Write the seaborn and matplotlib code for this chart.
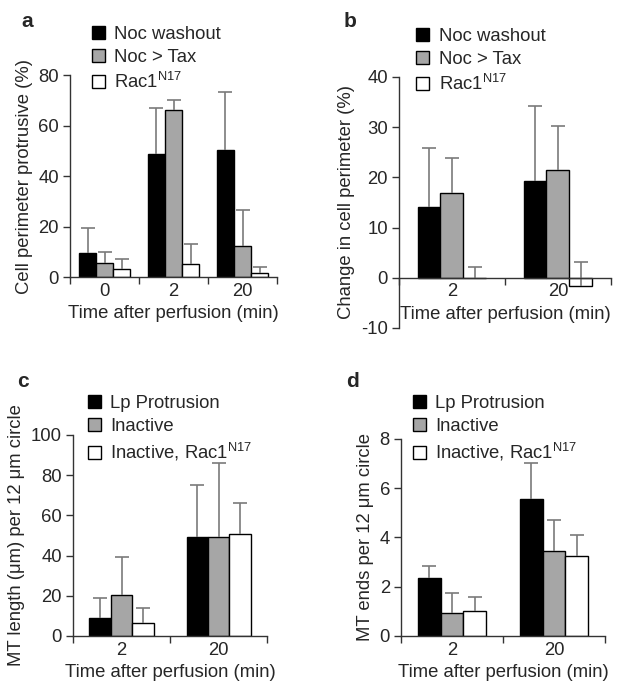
import numpy as np
import pandas as pd
import seaborn as sns
import matplotlib.pyplot as plt
from matplotlib.patches import Patch

# ---------------- Data ----------------
groups_a = ["0", "2", "20"]
groups_2 = ["2", "20"]
series_ab = ["Noc washout", "Noc > Tax", "Rac1$^{\\mathrm{N17}}$"]
series_cd = ["Lp Protrusion", "Inactive", "Inactive, Rac1$^{\\mathrm{N17}}$"]

# panel a: cell perimeter protrusive (%)
a_wash = [9.5, 48.8, 50.4]
a_wash_err = [9.9, 18.1, 23.0]
a_tax = [5.4, 66.2, 12.4]
a_tax_err = [4.6, 3.9, 14.2]
a_rac = [3.0, 5.3, 1.5]
a_rac_err = [4.0, 7.8, 2.3]

# panel b: change in cell perimeter (%)
b_wash = [14.0, 19.3]
b_wash_err = [11.8, 14.9]
b_tax = [16.8, 21.4]
b_tax_err = [7.0, 8.8]
b_rac = [0.0, -1.6]
b_rac_err = [2.1, 4.7]

# panel c: MT length per 12 um circle
c_lp = [9.0, 49.3]
c_lp_err = [9.9, 25.9]
c_in = [20.6, 49.3]
c_in_err = [18.8, 36.7]
c_rac = [6.6, 50.5]
c_rac_err = [7.2, 15.8]

# panel d: MT ends per 12 um circle
d_lp = [2.35, 5.57]
d_lp_err = [0.48, 1.44]
d_in = [0.95, 3.46]
d_in_err = [0.81, 1.23]
d_rac = [1.03, 3.23]
d_rac_err = [0.57, 0.89]

colors = ["black", "#a6a6a6", "white"]

# ---------------- Style ----------------
sns.set_style("ticks")
plt.rcParams["font.family"] = ["Liberation Sans", "DejaVu Sans"]
plt.rcParams["mathtext.fontset"] = "custom"
plt.rcParams["mathtext.rm"] = "Liberation Sans"
plt.rcParams["axes.unicode_minus"] = False
FS = 13.3
axcol = "#333333"

fig = plt.figure(figsize=(6.32, 6.81), dpi=100)


def make_df(groups, names, vals, errs):
    rows = []
    for name, v, e in zip(names, vals, errs):
        for g, vi, ei in zip(groups, v, e):
            rows.append({"time": g, "series": name, "value": vi, "err": ei})
    return pd.DataFrame(rows)


def panel(rect, groups, names, vals, errs, ylim, yticks, ylabel, width,
          letter, letter_xy, leg_xy, zero_spine=False, xpad=4):
    ax = fig.add_axes(rect)
    df = make_df(groups, names, vals, errs)
    sns.barplot(data=df, x="time", y="value", hue="series", order=groups,
                hue_order=names, palette=colors, saturation=1, width=width,
                edgecolor="black", linewidth=1, errorbar=None, legend=False,
                ax=ax)
    for cont, e in zip(ax.containers, errs):
        for bar, ei in zip(cont, e):
            xc = bar.get_x() + bar.get_width() / 2
            yv = bar.get_y() + bar.get_height()
            _, caps, lines = ax.errorbar([xc], [yv], yerr=[[0], [ei]], fmt="none",
                                         ecolor="#7a7a7a", elinewidth=1.2,
                                         capsize=5, capthick=1.2, zorder=1)
            for c in caps:
                c.set_color("#222222")
            # one-sided: hide the lower cap
            caps[0].set_visible(False)
    sns.despine(ax=ax)
    if zero_spine:
        ax.spines["bottom"].set_position(("data", 0))
    n = len(groups)
    ax.set_xlim(-0.5, n - 0.5)
    ax.set_ylim(*ylim)
    ax.set_yticks(yticks)
    ax.set_yticklabels([str(t) for t in yticks])
    ax.set_xticks(np.arange(n + 1) - 0.5)
    ax.set_xticklabels([""] * (n + 1))
    ax.set_xticks(np.arange(n), minor=True)
    ax.set_xticklabels(groups, minor=True)
    ax.tick_params(axis="x", which="minor", length=0, pad=4, labelsize=FS)
    ax.tick_params(axis="x", which="major", length=5, width=1, color=axcol)
    ax.tick_params(axis="y", length=5, width=1, color=axcol, pad=3, labelsize=FS)
    ax.set_xlabel("Time after perfusion (min)", fontsize=FS, labelpad=xpad)
    ax.set_ylabel(ylabel, fontsize=FS, labelpad=4)
    ax.spines["left"].set_bounds(ylim[0], ylim[1])
    for s in ("left", "bottom"):
        ax.spines[s].set_color(axcol)
        ax.spines[s].set_linewidth(1)
    ax.patch.set_visible(False)
    fig.text(letter_xy[0], letter_xy[1], letter, fontsize=15, fontweight="bold",
             ha="left", va="center")
    handles = [Patch(facecolor=c, edgecolor="black", linewidth=1) for c in colors]
    ax.legend(handles, names, loc="upper left", bbox_to_anchor=leg_xy,
              bbox_transform=fig.transFigure, frameon=False, fontsize=FS,
              handlelength=0.7, handleheight=0.7, handletextpad=0.5,
              labelspacing=0.33, borderpad=0, borderaxespad=0)
    return ax


panel([0.1108, 0.5932, 0.3275, 0.2966], groups_a, series_ab,
      [a_wash, a_tax, a_rac], [a_wash_err, a_tax_err, a_rac_err],
      (0, 80), [0, 20, 40, 60, 80], "Cell perimeter protrusive (%)", 0.74,
      "a", (0.034, 0.969), (0.145, 0.962))

panel([0.6313, 0.5184, 0.3354, 0.3686], groups_2, series_ab,
      [b_wash, b_tax, b_rac], [b_wash_err, b_tax_err, b_rac_err],
      (-10, 40), [-10, 0, 10, 20, 30, 40], "Change in cell perimeter (%)", 0.65,
      "b", (0.543, 0.969), (0.659, 0.959), zero_spine=True, xpad=4)

panel([0.1155, 0.0661, 0.307, 0.2952], groups_2, series_cd,
      [c_lp, c_in, c_rac], [c_lp_err, c_in_err, c_rac_err],
      (0, 100), [0, 20, 40, 60, 80, 100], "MT length (\u03bcm) per 12 \u03bcm circle",
      0.66, "c", (0.027, 0.44), (0.139, 0.42))

panel([0.6345, 0.0661, 0.3228, 0.2893], groups_2, series_cd,
      [d_lp, d_in, d_rac], [d_lp_err, d_in_err, d_rac_err],
      (0, 8), [0, 2, 4, 6, 8], "MT ends per 12 \u03bcm circle",
      0.675, "d", (0.547, 0.44), (0.653, 0.42))

fig.savefig("out.png", dpi=100)
